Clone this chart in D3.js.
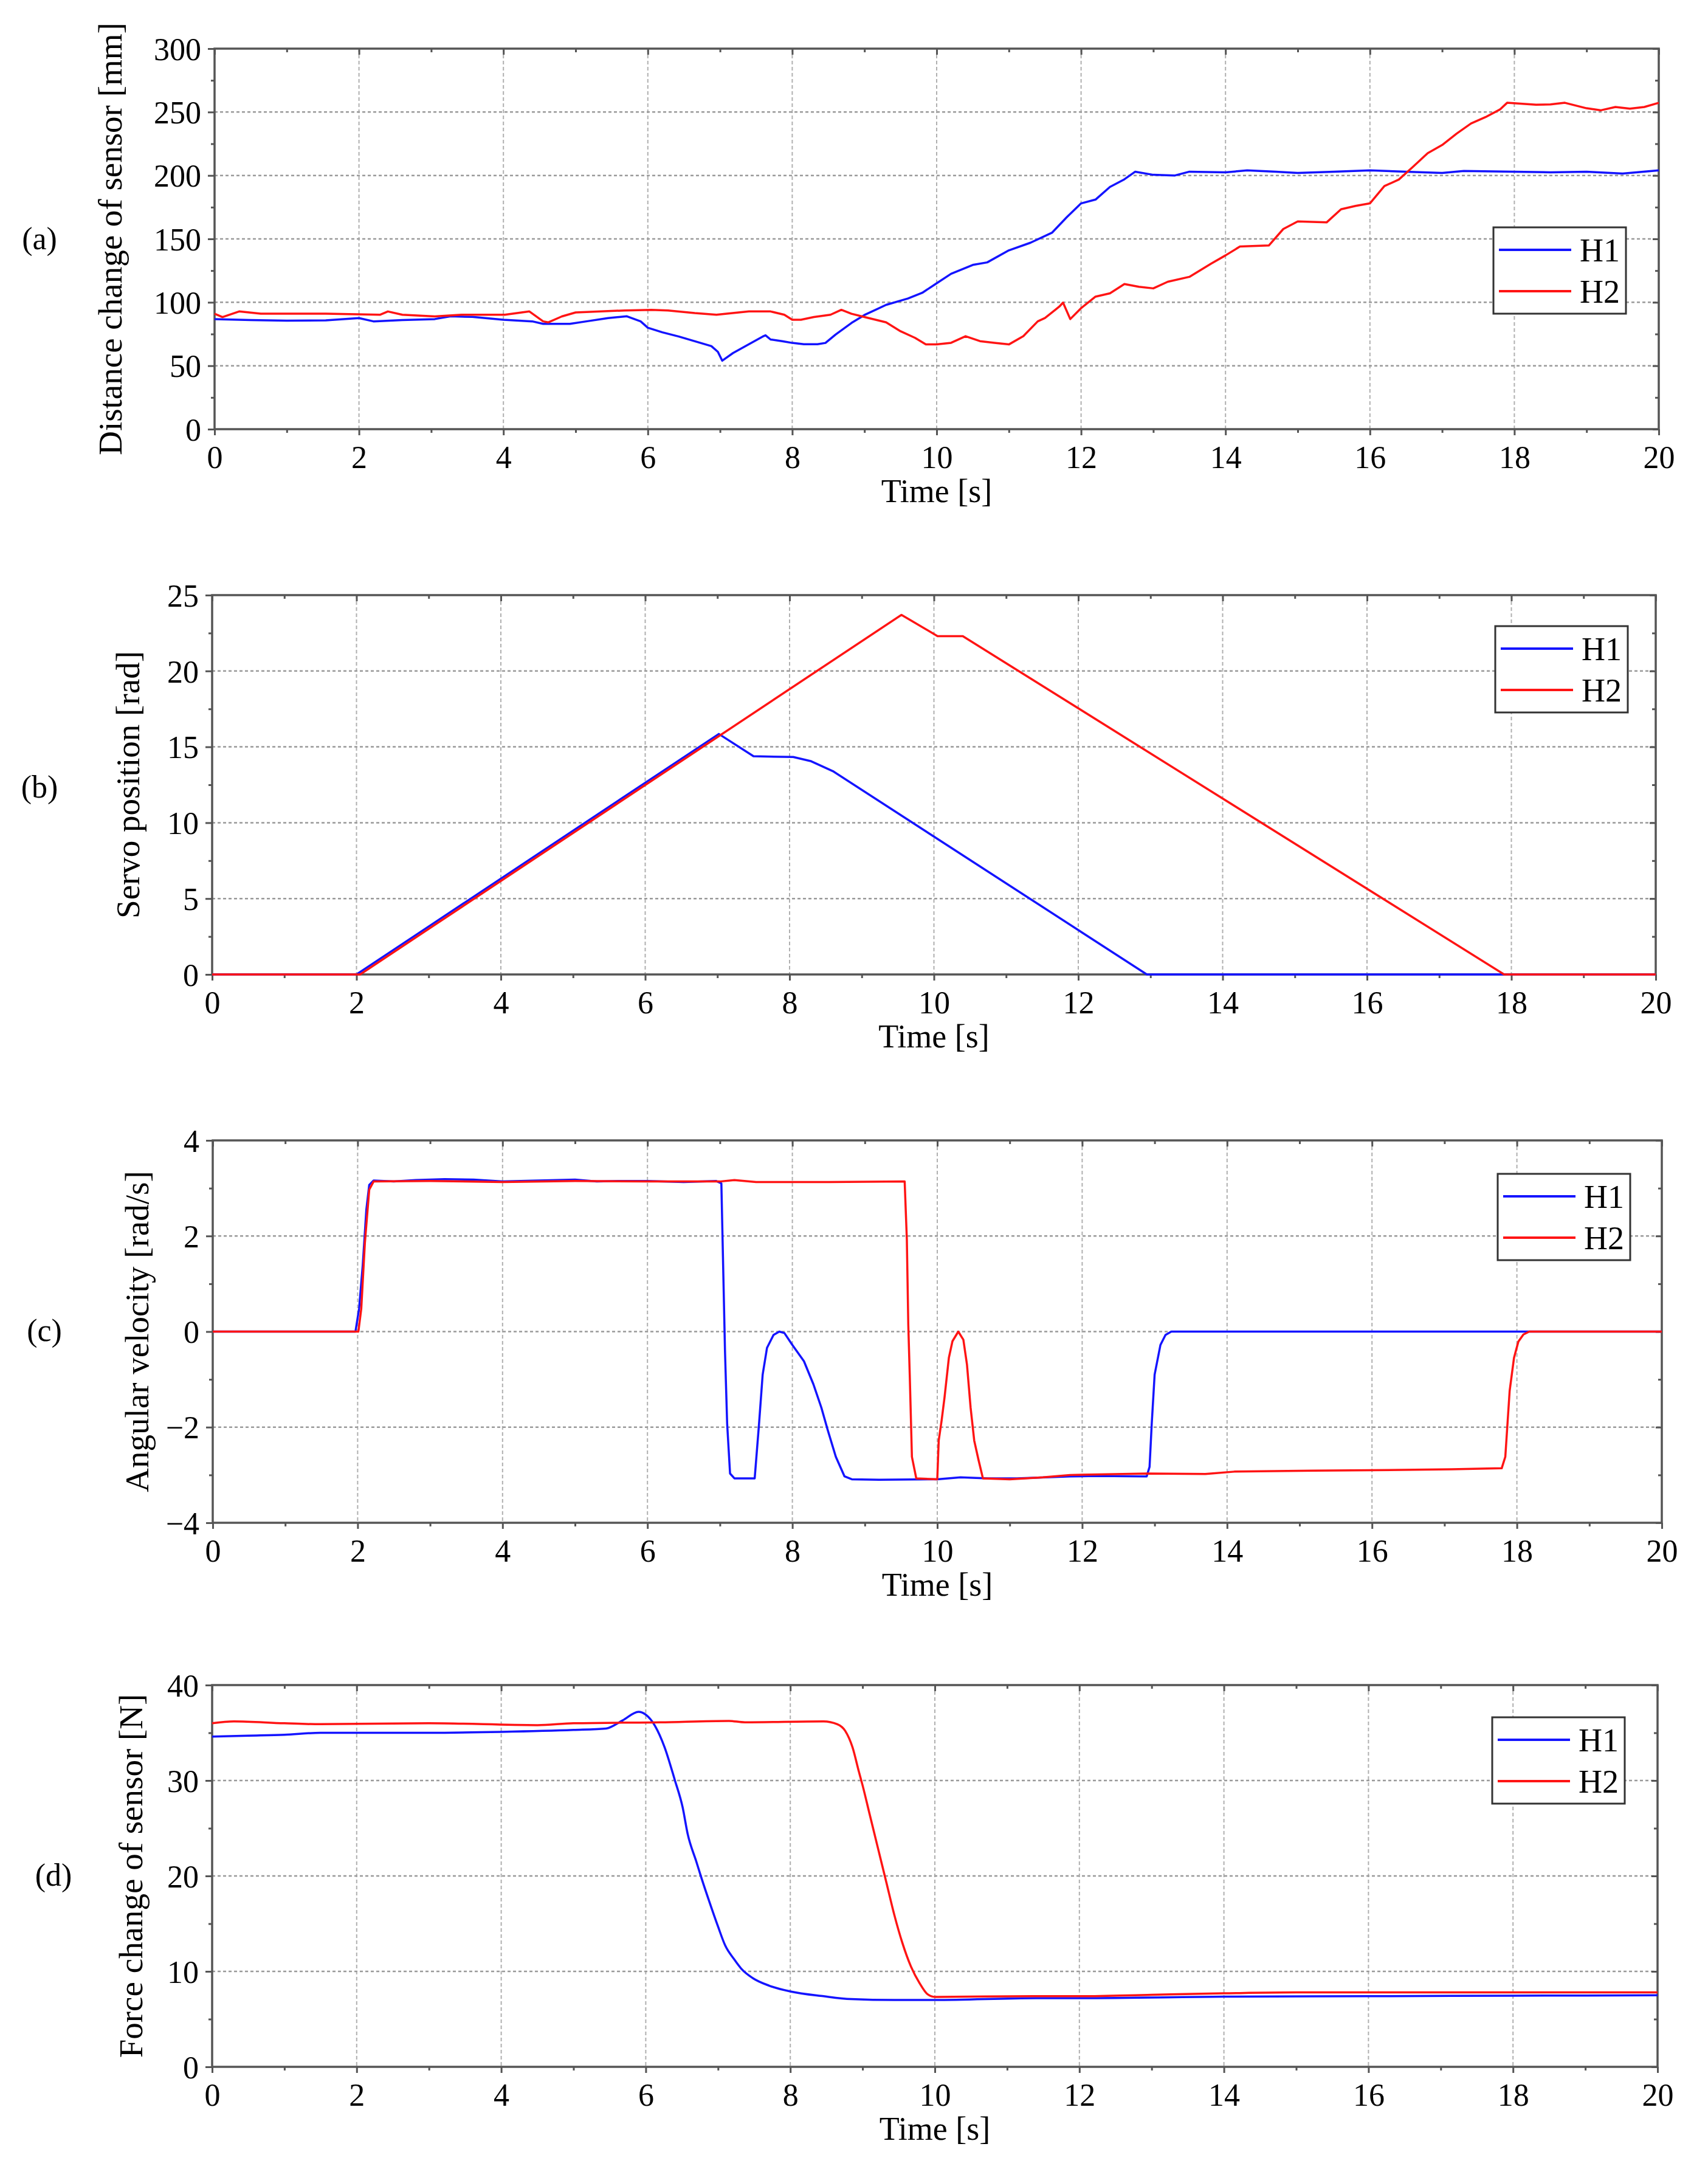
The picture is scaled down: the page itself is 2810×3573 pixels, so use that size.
<!DOCTYPE html>
<html>
<head>
<meta charset="utf-8">
<script src="https://cdn.jsdelivr.net/npm/d3@7"></script>
<style>
  body { margin: 0; background: #fff; }
</style>
</head>
<body>
<div id="chart"></div>
<script>
// shared x ticks (time, s)
var xTickValues = [0, 2, 4, 6, 8, 10, 12, 14, 16, 18, 20];
var seriesNames = ["H1", "H2"];

// (a) distance change of sensor [mm]
var distTicks = [0, 50, 100, 150, 200, 250, 300];
var distH1 = [[0,86.8],[0.5,86],[1,85.5],[1.54,85.8],[2,87.6],[2.2,85],[2.6,86],[3.05,86.8],[3.27,89],[3.57,88.5],[4,86.3],[4.4,85],[4.55,83],[4.92,83],[5.15,85],[5.45,87.6],[5.71,89],[5.9,85],[6,80],[6.2,76.4],[6.43,73],[6.73,68],[6.88,65.5],[6.97,61],[7.03,54],[7.18,60],[7.4,67],[7.59,73],[7.63,74],[7.7,70.7],[7.86,69.4],[8,68],[8.16,67],[8.35,67],[8.46,68],[8.6,74.6],[8.82,83.7],[9,90],[9.3,98],[9.6,103],[9.8,107.5],[10,115],[10.2,122.5],[10.5,129.5],[10.7,131.5],[11,141],[11.3,147],[11.6,155],[11.8,167],[12,178],[12.2,181],[12.4,191],[12.6,197],[12.75,203],[13,200.5],[13.3,200],[13.5,203],[14,202.5],[14.3,204],[14.7,203],[15,202],[15.5,203],[16,204],[16.5,203],[17,202],[17.3,203.5],[18,203],[18.5,202.5],[19,203],[19.5,201.5],[20,204]];
var distH2 = [[0,91],[0.11,88.4],[0.34,92.8],[0.64,91],[1.54,91],[2.29,90.2],[2.4,92.8],[2.6,90.2],[3.05,88.9],[3.42,90.2],[4.02,90.2],[4.36,92.8],[4.55,85],[4.62,84.2],[4.81,88.9],[5,92],[5.68,93.6],[6.05,94.1],[6.28,93.6],[6.65,91.5],[6.95,90.2],[7.4,92.8],[7.7,92.8],[7.89,90.2],[8,86.3],[8.12,86.3],[8.3,88.4],[8.53,90.2],[8.68,94.1],[8.82,91],[9,88.4],[9.3,84.2],[9.5,77.2],[9.7,72],[9.85,66.8],[10,66.8],[10.2,68.1],[10.4,73.3],[10.6,69.4],[10.8,68.1],[11,66.8],[11.2,73.3],[11.4,85],[11.5,87.6],[11.7,96.7],[11.75,99.8],[11.85,86.8],[12,95.4],[12.2,104.5],[12.4,107.1],[12.6,114.4],[12.8,112.3],[13,111],[13.2,116.2],[13.5,120.1],[13.8,130.5],[14,137],[14.2,144],[14.6,144.8],[14.8,157.8],[15,163.8],[15.4,163],[15.6,173.4],[15.8,176],[16,178],[16.2,191.6],[16.4,196.8],[16.6,207],[16.8,217.6],[17,224],[17.2,233],[17.4,241],[17.6,246],[17.8,252],[17.9,257.3],[18.3,255.8],[18.5,256],[18.7,257.3],[19,253],[19.2,251.4],[19.4,254],[19.6,252.7],[19.8,254],[20,257.3]];

// (b) servo position [rad]
var servoTicks = [0, 5, 10, 15, 20, 25];
var servoH1 = [[0,0],[2,0],[7.02,15.85],[7.5,14.38],[8.05,14.33],[8.3,14.05],[8.6,13.4],[12.95,0],[20,0]];
var servoH2 = [[0,0],[2.05,0],[9.55,23.7],[10.05,22.3],[10.4,22.3],[17.9,0],[20,0]];

// (c) angular velocity [rad/s]
var velTicks = [-4, -2, 0, 2, 4];
var velH1 = [[0,0],[1.97,0],[2.02,0.48],[2.07,1.38],[2.12,2.55],[2.16,3.07],[2.22,3.16],[2.5,3.14],[2.8,3.17],[3.2,3.19],[3.6,3.18],[4,3.14],[4.5,3.16],[5,3.18],[5.3,3.14],[5.6,3.15],[6,3.15],[6.5,3.13],[6.95,3.15],[7.02,3.1],[7.07,-0.4],[7.1,-1.93],[7.14,-2.97],[7.2,-3.07],[7.48,-3.07],[7.54,-1.93],[7.59,-0.9],[7.65,-0.34],[7.74,-0.07],[7.82,0],[7.89,-0.03],[8,-0.28],[8.16,-0.62],[8.29,-1.1],[8.4,-1.59],[8.49,-2.07],[8.6,-2.62],[8.72,-3.03],[8.82,-3.09],[9.2,-3.1],[10,-3.09],[10.32,-3.05],[10.7,-3.07],[11.1,-3.07],[11.5,-3.05],[11.83,-3.03],[12.2,-3.02],[12.89,-3.03],[12.93,-2.83],[12.96,-1.93],[13,-0.9],[13.08,-0.28],[13.15,-0.07],[13.23,0],[20,0]];
var velH2 = [[0,0],[2.01,0],[2.05,0.48],[2.1,1.86],[2.16,2.97],[2.22,3.14],[3,3.15],[4,3.13],[5,3.15],[6,3.14],[7,3.14],[7.2,3.17],[7.5,3.13],[8.5,3.13],[9.55,3.14],[9.58,1.93],[9.6,0.14],[9.62,-0.9],[9.65,-2.62],[9.71,-3.07],[10,-3.09],[10.02,-2.28],[10.06,-1.86],[10.1,-1.38],[10.16,-0.55],[10.21,-0.2],[10.29,0],[10.36,-0.17],[10.41,-0.69],[10.46,-1.59],[10.51,-2.28],[10.57,-2.69],[10.63,-3.07],[11,-3.09],[11.46,-3.05],[11.83,-3.0],[12.9,-2.97],[13.7,-2.98],[14.1,-2.93],[15.2,-2.91],[16,-2.9],[17.1,-2.88],[17.79,-2.86],[17.84,-2.62],[17.87,-1.93],[17.9,-1.24],[17.96,-0.55],[18.02,-0.21],[18.09,-0.06],[18.17,0],[20,0]];

// (d) force change of sensor [N]
var forceTicks = [0, 10, 20, 30, 40];
var forceH1 = [[0,34.6],[0.5,34.7],[1,34.8],[1.5,35],[3,35],[4,35.1],[5,35.3],[5.45,35.45],[5.68,36.3],[5.9,37.2],[6,36.9],[6.13,35.7],[6.26,33.5],[6.4,30.1],[6.51,27.2],[6.58,24.4],[6.7,21.5],[6.77,19.8],[6.88,17.3],[7,14.7],[7.1,12.7],[7.22,11.3],[7.32,10.3],[7.48,9.3],[7.71,8.5],[8,7.9],[8.46,7.4],[8.84,7.1],[9.44,7.0],[10,7.0],[11.4,7.2],[12,7.2],[14,7.35],[16,7.4],[18,7.45],[20,7.5]];
var forceH2 = [[0,36],[0.3,36.2],[1,36],[1.5,35.9],[3,36],[4.5,35.8],[5,36],[6.2,36.1],[7.15,36.25],[7.37,36.1],[8.46,36.2],[8.65,35.9],[8.76,35.2],[8.86,33.5],[8.95,30.9],[9,29.5],[9.1,26.4],[9.21,23],[9.33,19.3],[9.44,15.9],[9.55,13],[9.67,10.5],[9.79,8.75],[9.9,7.6],[10,7.33],[11.4,7.4],[12,7.4],[13,7.55],[14,7.7],[15,7.8],[20,7.8]];

var svgWidth = 2810;
var svgHeight = 3573;
var font = "'Liberation Serif', 'Times New Roman', serif";
var blue = "#1414ff";
var red = "#ff1414";
var axisColor = "#555";

var svg = d3.select("#chart")
  .append("svg")
  .attr("width", svgWidth)
  .attr("height", svgHeight)
  .style("background", "#fff");

// panel boxes and the bits of text around them
var panels = [
  { tag: "(a)", title: "Distance change of sensor [mm]", ticks: distTicks, h1: distH1, h2: distH2, curve: d3.curveLinear,
    left: 353, right: 2729, top: 80, bottom: 706, titleX: 181, tagX: 65, tagY: 392, legX: 2457, legY: 374 },
  { tag: "(b)", title: "Servo position [rad]", ticks: servoTicks, h1: servoH1, h2: servoH2, curve: d3.curveLinear,
    left: 349, right: 2724, top: 979, bottom: 1603, titleX: 210, tagX: 65, tagY: 1294, legX: 2460, legY: 1030 },
  { tag: "(c)", title: "Angular velocity [rad/s]", ticks: velTicks, h1: velH1, h2: velH2, curve: d3.curveLinear,
    left: 350, right: 2734, top: 1876, bottom: 2505, titleX: 225, tagX: 73, tagY: 2188, legX: 2464, legY: 1931 },
  { tag: "(d)", title: "Force change of sensor [N]", ticks: forceTicks, h1: forceH1, h2: forceH2, curve: d3.curveMonotoneX,
    left: 349, right: 2727, top: 2772, bottom: 3400, titleX: 215, tagX: 88, tagY: 3084, legX: 2455, legY: 2825 }
];

function midpoints(arr) {
  var out = [];
  for (var i = 0; i < arr.length - 1; i++) out.push((arr[i] + arr[i + 1]) / 2);
  return out;
}

function styleAxis(g) {
  g.select(".domain").remove();
  g.selectAll("line").attr("stroke", axisColor).attr("stroke-width", 3);
  g.attr("font-family", font).attr("font-size", 52);
  g.selectAll("text").attr("fill", "#000");
}

panels.forEach(function(p) {
  var x = d3.scaleLinear().domain([0, 20]).range([p.left, p.right]);
  var y = d3.scaleLinear()
    .domain([p.ticks[0], p.ticks[p.ticks.length - 1]])
    .range([p.bottom, p.top]);
  var g = svg.append("g");
  var w = p.right - p.left;
  var h = p.bottom - p.top;

  // grid
  g.append("g").selectAll("line")
    .data(xTickValues.slice(1, -1))
    .join("line")
    .attr("x1", d => x(d)).attr("x2", d => x(d))
    .attr("y1", p.top).attr("y2", p.bottom)
    .attr("stroke", "#b0b0b0").attr("stroke-width", 2)
    .attr("stroke-dasharray", "6,4");
  g.append("g").selectAll("line")
    .data(p.ticks.slice(1, -1))
    .join("line")
    .attr("x1", p.left).attr("x2", p.right)
    .attr("y1", d => y(d)).attr("y2", d => y(d))
    .attr("stroke", "#9a9a9a").attr("stroke-width", 2.5)
    .attr("stroke-dasharray", "5,4");

  // axes (left/bottom out, top/right in)
  var bottom = g.append("g").attr("transform", `translate(0, ${p.bottom})`)
    .call(d3.axisBottom(x).tickValues(xTickValues).tickSize(10).tickFormat(d3.format("d")));
  styleAxis(bottom);
  bottom.selectAll("text").attr("y", 64).attr("dy", 0);
  styleAxis(g.append("g").attr("transform", `translate(0, ${p.bottom})`)
    .call(d3.axisBottom(x).tickValues(midpoints(xTickValues)).tickSize(6).tickFormat("")));
  styleAxis(g.append("g").attr("transform", `translate(0, ${p.top})`)
    .call(d3.axisTop(x).tickValues(xTickValues).tickSize(-10).tickFormat("")));
  styleAxis(g.append("g").attr("transform", `translate(0, ${p.top})`)
    .call(d3.axisTop(x).tickValues(midpoints(xTickValues)).tickSize(-6).tickFormat("")));

  var left = g.append("g").attr("transform", `translate(${p.left}, 0)`)
    .call(d3.axisLeft(y).tickValues(p.ticks).tickSize(11).tickFormat(d3.format("d")));
  styleAxis(left);
  left.selectAll("text").attr("x", -22).attr("dy", "0.35em");
  styleAxis(g.append("g").attr("transform", `translate(${p.left}, 0)`)
    .call(d3.axisLeft(y).tickValues(midpoints(p.ticks)).tickSize(6).tickFormat("")));
  styleAxis(g.append("g").attr("transform", `translate(${p.right}, 0)`)
    .call(d3.axisRight(y).tickValues(p.ticks).tickSize(-10).tickFormat("")));
  styleAxis(g.append("g").attr("transform", `translate(${p.right}, 0)`)
    .call(d3.axisRight(y).tickValues(midpoints(p.ticks)).tickSize(-6).tickFormat("")));

  g.append("rect")
    .attr("x", p.left).attr("y", p.top)
    .attr("width", w).attr("height", h)
    .attr("fill", "none").attr("stroke", axisColor).attr("stroke-width", 3.5);

  // data
  var line = d3.line().x(d => x(d[0])).y(d => y(d[1])).curve(p.curve);
  g.append("path").datum(p.h1).attr("d", line)
    .attr("fill", "none").attr("stroke", blue).attr("stroke-width", 3.5).attr("stroke-linejoin", "round");
  g.append("path").datum(p.h2).attr("d", line)
    .attr("fill", "none").attr("stroke", red).attr("stroke-width", 3.5).attr("stroke-linejoin", "round");

  // titles
  g.append("text")
    .attr("x", (p.left + p.right) / 2)
    .attr("y", p.bottom + 120)
    .attr("text-anchor", "middle")
    .attr("font-family", font).attr("font-size", 54)
    .text("Time [s]");
  g.append("text")
    .attr("transform", `translate(${p.titleX}, ${(p.top + p.bottom) / 2}) rotate(-90)`)
    .attr("dy", "0.35em")
    .attr("text-anchor", "middle")
    .attr("font-family", font).attr("font-size", 55)
    .text(p.title);
  g.append("text")
    .attr("x", p.tagX).attr("y", p.tagY)
    .attr("dy", "0.35em")
    .attr("text-anchor", "middle")
    .attr("font-family", font).attr("font-size", 52)
    .text(p.tag);

  // legend
  var leg = g.append("g").attr("transform", `translate(${p.legX}, ${p.legY})`);
  leg.append("rect")
    .attr("width", 218).attr("height", 142)
    .attr("fill", "#fff").attr("stroke", "#333").attr("stroke-width", 3);
  [blue, red].forEach(function(c, i) {
    var ly = 37 + i * 68;
    leg.append("line")
      .attr("x1", 9).attr("x2", 128).attr("y1", ly).attr("y2", ly)
      .attr("stroke", c).attr("stroke-width", 4);
    leg.append("text")
      .attr("x", 142).attr("y", ly + 19)
      .attr("font-family", font).attr("font-size", 54)
      .text(seriesNames[i]);
  });
});
</script>
</body>
</html>
